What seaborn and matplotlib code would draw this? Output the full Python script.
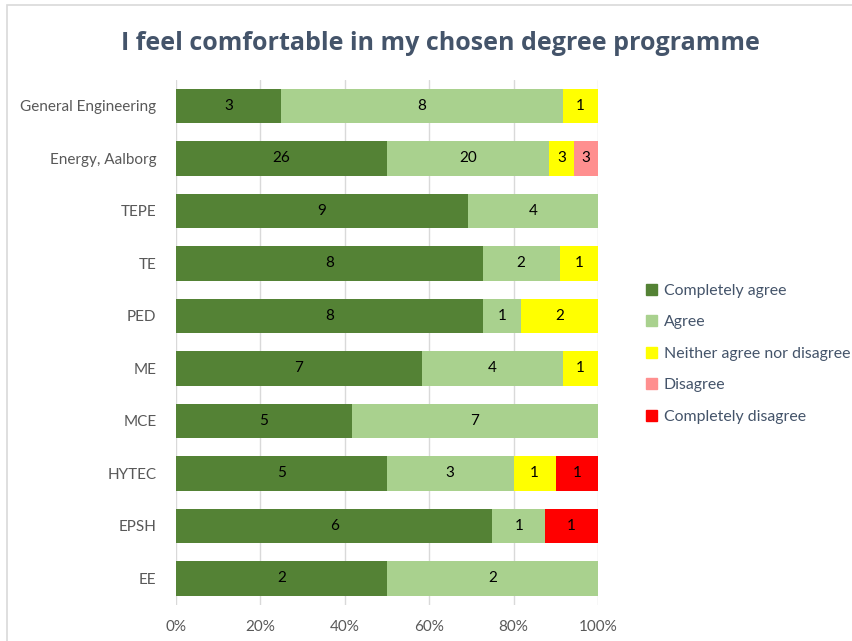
import seaborn as sns
import matplotlib.pyplot as plt
import matplotlib.patches as mpatches
import pandas as pd
import numpy as np

# programmes, top to bottom
programmes = ['General Engineering', 'Energy, Aalborg', 'TEPE', 'TE', 'PED',
              'ME', 'MCE', 'HYTEC', 'EPSH', 'EE']
answers = ['Completely agree', 'Agree', 'Neither agree nor disagree',
           'Disagree', 'Completely disagree']
completely_agree = [3, 26, 9, 8, 8, 7, 5, 5, 6, 2]
agree = [8, 20, 4, 2, 1, 4, 7, 3, 1, 2]
neither = [1, 3, 0, 1, 2, 1, 0, 1, 0, 0]
disagree = [0, 3, 0, 0, 0, 0, 0, 0, 0, 0]
completely_disagree = [0, 0, 0, 0, 0, 0, 0, 1, 1, 0]
colors = ['#548235', '#A9D18E', '#FFFF00', '#FF8F8F', '#FF0000']

counts = pd.DataFrame({
    answers[0]: completely_agree,
    answers[1]: agree,
    answers[2]: neither,
    answers[3]: disagree,
    answers[4]: completely_disagree,
}, index=programmes)
shares = counts.div(counts.sum(axis=1), axis=0)

sns.set_theme(style='white')
plt.rcParams['font.family'] = ['Lato', 'DejaVu Sans']

fig = plt.figure(figsize=(8.53, 6.41), dpi=100)
ax = fig.add_axes([0.2063, 0.0566, 0.4947, 0.819])

# frame around the chart area
fig.patches.append(mpatches.Rectangle((7 / 853, -0.1), 1.2, 1 - 5 / 641 + 0.1,
                                      transform=fig.transFigure, fill=False,
                                      edgecolor='#D9D9D9', linewidth=1.2))

left = np.zeros(len(programmes))
for ans, col in zip(answers, colors):
    long = pd.DataFrame({'programme': programmes, 'share': shares[ans].values})
    sns.barplot(data=long, x='share', y='programme', left=left, color=col,
                width=0.65, ax=ax, orient='h', saturation=1, linewidth=0)
    for i, (n, s) in enumerate(zip(counts[ans].values, shares[ans].values)):
        if n > 0:
            ax.text(left[i] + s / 2, i, str(n), ha='center', va='center',
                    fontsize=11, color='black')
    left = left + shares[ans].values

ax.set_xlim(0, 1)
ax.set_ylim(9.5, -0.5)
ax.set_xticks(np.arange(0, 1.01, 0.2))
ax.set_xticklabels([f'{int(t * 100)}%' for t in np.arange(0, 1.01, 0.2)])
ax.xaxis.grid(True, color='#D9D9D9', linewidth=1)
ax.set_axisbelow(True)
for sp in ax.spines.values():
    sp.set_visible(False)
ax.set_xlabel('')
ax.set_ylabel('')
ax.tick_params(axis='x', colors='#595959', labelsize=11, length=0, pad=11)
ax.tick_params(axis='y', colors='#595959', labelsize=11, length=0, pad=14)

fig.text(0.516, 0.932, 'I feel comfortable in my chosen degree programme',
         ha='center', va='center', fontsize=18, fontweight='bold',
         family=['Open Sans', 'DejaVu Sans'], color='#44546A')

handles = [mpatches.Patch(color=c, label=a) for a, c in zip(answers, colors)]
fig.legend(handles=handles, loc='center left', bbox_to_anchor=(0.741, 0.448),
           frameon=False, fontsize=11.4, labelcolor='#44546A',
           handlelength=0.7, handleheight=0.7, handletextpad=0.4,
           labelspacing=1.1)

fig.savefig('out.png', dpi=100)
